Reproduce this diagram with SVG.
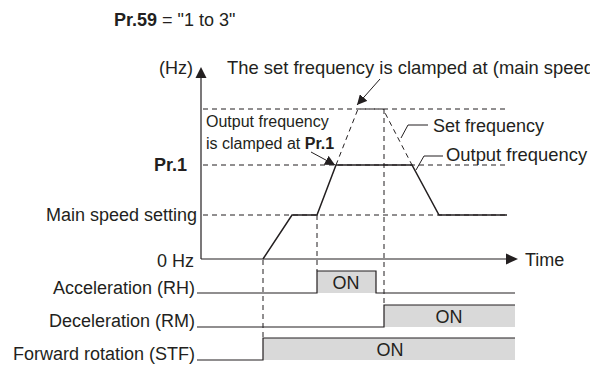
<svg xmlns="http://www.w3.org/2000/svg" width="590" height="365" viewBox="0 0 590 365">
<style>
text{font-family:"Liberation Sans",Arial,sans-serif;font-size:18px;fill:#231f20}
.b{font-weight:bold}
.sm{font-size:16px}
.lg{font-size:18.4px}
.r{text-anchor:end}
.m{text-anchor:middle}
.ax{stroke:#231f20;stroke-width:1.2;fill:none}
.sol{stroke:#231f20;stroke-width:1.5;fill:none}
.dash{stroke:#231f20;stroke-width:1;stroke-dasharray:5 4;fill:none}
.thin{stroke:#231f20;stroke-width:1;fill:none}
.on{fill:#d9d9d9}
</style>
<defs>
<marker id="ah" viewBox="0 0 10 10" refX="10" refY="5" markerWidth="10" markerHeight="10" markerUnits="userSpaceOnUse" orient="auto"><path d="M0,0 L10,5 L0,10 z" fill="#231f20"/></marker>
</defs>
<text x="114" y="26"><tspan class="b">Pr.59</tspan> = "1 to 3"</text>
<g id="axes">
<path class="ax" d="M201,259 V76"/>
<path d="M201,67 L195.5,78 L206.5,78 z" fill="#231f20"/>
<path class="ax" d="M201,259 H507"/>
<path d="M518,259 L506,253.5 L506,264.5 z" fill="#231f20"/>
<text x="193" y="74" class="r">(Hz)</text>
<text x="525" y="266">Time</text>
<text x="194" y="267" class="r">0 Hz</text>
<text x="187" y="171" class="r b">Pr.1</text>
<text x="197" y="221" class="r">Main speed setting</text>
</g>
<g id="grid">
<path class="dash" d="M203,109 H507 M203,165 H507 M203,215 H507"/>
<path class="dash" d="M263,260 V338 M317,215 V271 M384,109 V305"/>
</g>
<g id="curves">
<path class="dash" d="M336,165 L358,109 L383,109 L412,165"/>
<path class="sol" d="M263,259 L292,215 L317,215 L336,165 L412,165 L439,215 L507,215"/>
</g>
<g id="labels">
<text x="227" y="74" class="lg">The set frequency is clamped at (main speed</text>
<path class="thin" d="M380,79 L357,105" marker-end="url(#ah)"/>
<text x="206" y="127" class="sm">Output frequency</text>
<text x="206" y="149" class="sm">is clamped at <tspan class="b">Pr.1</tspan></text>
<path class="thin" d="M311,152 L335,165" marker-end="url(#ah)"/>
<path class="thin" d="M401,138 L408,125 H428"/>
<text x="433" y="132">Set frequency</text>
<path class="thin" d="M416,170 L424,156 H443"/>
<text x="446" y="161" class="lg">Output frequency</text>
</g>
<g id="signals">
<rect class="on" x="317" y="271" width="59" height="22"/>
<rect class="on" x="384" y="305" width="131" height="22"/>
<rect class="on" x="263" y="338" width="252" height="22"/>
<path class="ax" d="M197,293 H317 V271 H376 V293 H515"/>
<path class="ax" d="M197,327 H384 V305 H515"/>
<path class="ax" d="M197,360 H263 V338 H515"/>
<text x="195" y="294" class="r">Acceleration (RH)</text>
<text x="195" y="327" class="r">Deceleration (RM)</text>
<text x="195" y="360" class="r">Forward rotation (STF)</text>
<text x="346" y="289" class="m">ON</text>
<text x="449" y="323" class="m">ON</text>
<text x="390" y="356" class="m">ON</text>
</g>
</svg>
